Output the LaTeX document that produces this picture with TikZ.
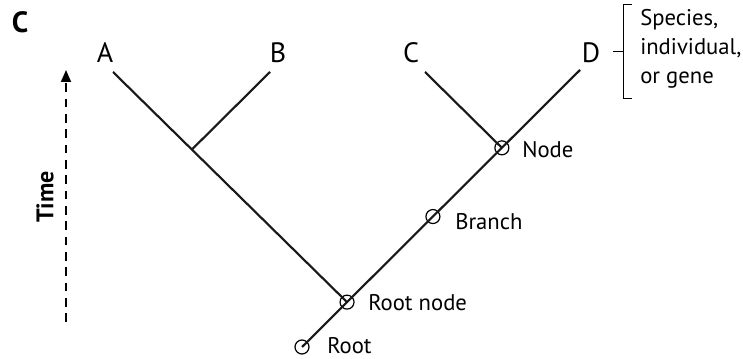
\documentclass[tikz,border=0pt]{standalone}
\usepackage{fontspec}
\setmainfont{PT Sans}
\usetikzlibrary{arrows.meta,calc}
\begin{document}
\begin{tikzpicture}[x=0.75pt,y=-0.75pt,
  edge/.style={line width=1.6pt,black!90},
  mark circ/.style={circle,draw,line width=0.9pt,minimum size=10.5pt,inner sep=0pt},
  tiplabel/.style={font=\fontsize{21}{24}\selectfont,inner sep=0pt,anchor=base},
  desc/.style={font=\fontsize{17}{20}\selectfont,anchor=base west,inner sep=0pt},
]
\useasboundingbox (0,0) rectangle (743,359);

% panel letter
\node[font=\fontsize{22}{24}\selectfont\bfseries,inner sep=0pt] (panel) at (20,22) {C};

% tips
\coordinate (a) at (113,72);
\coordinate (b) at (270,72);
\coordinate (c) at (425,72);
\coordinate (d) at (580,70);
\coordinate (root) at (302,347);

% points on the long right-hand branch
\node[mark circ] (rt) at (root) {};
\node[mark circ] (rn) at ($(root)!0.162!(d)$) {};
\node[mark circ] (br) at ($(root)!0.471!(d)$) {};
\node[mark circ] (nd) at ($(root)!0.719!(d)$) {};
\coordinate (ab) at ($(a)!0.337!(rn.center)$);

% branches
\draw[edge] (a) -- (rn.center);
\draw[edge] (b) -- (ab);
\draw[edge] (c) -- (nd.center);
\draw[edge] (d) -- (rt.center);

% tip labels
\node[tiplabel] (la) at (105,63) {A};
\node[tiplabel] (lb) at (278,63) {B};
\node[tiplabel] (lc) at (411,63) {C};
\node[tiplabel] (ld) at (591,63) {D};

% point labels
\node[desc] (tnd) at (522,158) {Node};
\node[desc] (tbr) at (455,230) {Branch};
\node[desc] (trn) at (368,311) {Root node};
\node[desc] (trt) at (327,354) {Root};

% time axis
\coordinate (t0) at (66,322);
\coordinate (t1) at (66,70);
\draw[line width=1.4pt,dash pattern=on 6.5pt off 5pt,-{Triangle[length=9pt,width=7.5pt]}] (t0) -- (t1);
\node[rotate=90,font=\fontsize{18}{20}\selectfont\bfseries,inner sep=0pt] (time) at (45,197) {Time};

% bracket
\coordinate (k1) at (623,4);
\coordinate (k2) at (623,98);
\coordinate (km) at (613,51);
\draw[line width=0.7pt] ($(k1)+(9,0)$) -- (k1) -- (k2) -- ($(k2)+(9,0)$);
\draw[line width=0.7pt] (km) -- (km -| k1);
\node[anchor=west,align=left,inner sep=0pt,font=\fontsize{17}{21.75}\selectfont] (sp) at (640,49) {Species,\\individual,\\or gene};
\end{tikzpicture}
\end{document}
